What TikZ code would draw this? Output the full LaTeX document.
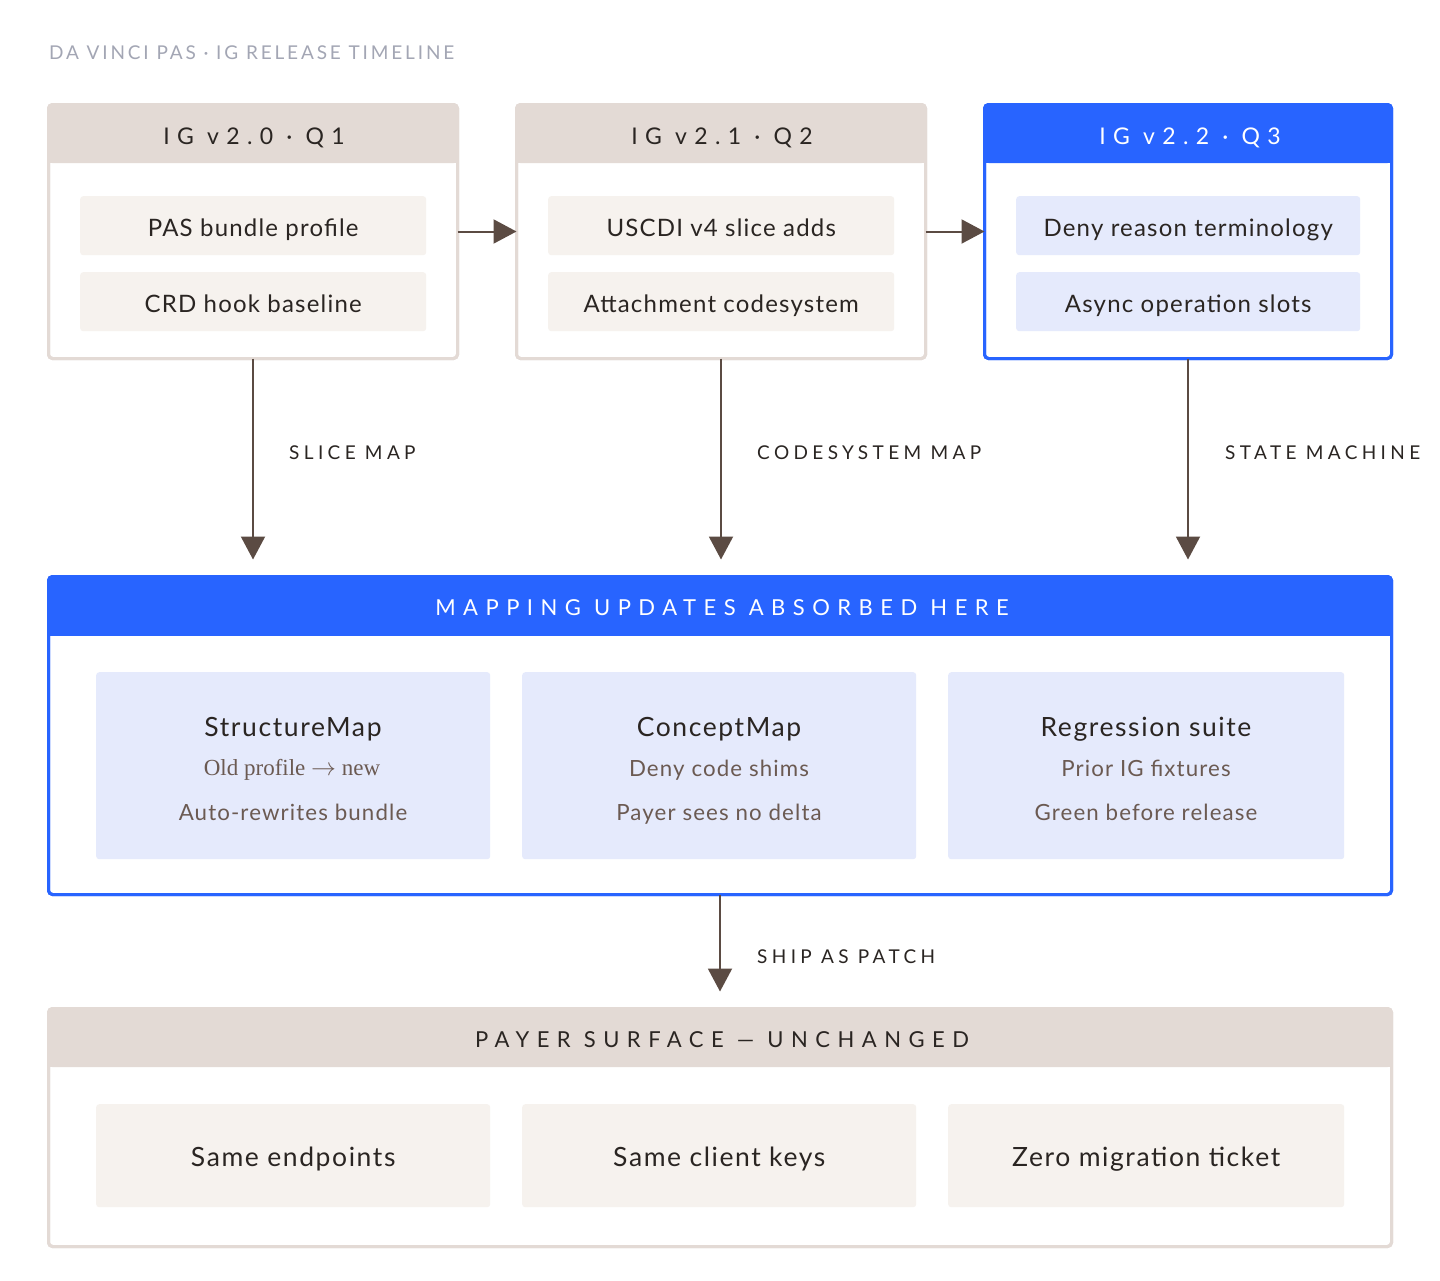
\documentclass[tikz,border=0pt]{standalone}
\usepackage{fontspec}
\setmainfont{Lato}
\newfontfamily\trackA[LetterSpace=15]{Lato}
\newfontfamily\trackB[LetterSpace=32]{Lato}
\newfontfamily\trackC[LetterSpace=23]{Lato}
\newfontfamily\trackD[LetterSpace=34]{Lato}
\newfontfamily\trackE[LetterSpace=5]{Lato}
\newfontfamily\trackF[LetterSpace=6]{Lato}
\newfontfamily\trackG[LetterSpace=5]{Lato}
\newfontfamily\serifsub{Liberation Serif}
\usetikzlibrary{arrows.meta,calc}
\definecolor{ablue}{RGB}{40,100,255}
\definecolor{hgray}{RGB}{227,218,213}
\definecolor{beige}{RGB}{246,242,238}
\definecolor{lblue}{RGB}{229,234,252}
\definecolor{arrc}{RGB}{91,75,67}
\definecolor{dtext}{RGB}{42,37,34}
\definecolor{btext}{RGB}{107,90,82}
\definecolor{ttext}{RGB}{163,166,180}
\tikzset{
  cc/.style={inner sep=0pt,text depth=0pt},
  outerbox/.style={draw=#1,line width=3pt,rounded corners=4pt,fill=white,inner sep=0pt,outer sep=0pt,anchor=north west},
  card/.style={fill=#1,rounded corners=3pt,inner sep=0pt,anchor=north west},
  itemtxt/.style={cc,text height=17.2pt,yshift=-2pt,font=\trackE\fontsize{24}{26}\selectfont,text=dtext},
  hdrtxt/.style={cc,text height=16.5pt,font=\trackB\fontsize{23}{26}\selectfont},
  lbltxt/.style={cc,text height=13.7pt,anchor=west,font=\trackC\fontsize{19}{22}\selectfont,text=dtext},
  bighdr/.style={cc,text height=15.8pt,font=\trackD\fontsize{22}{26}\selectfont},
  ctitle/.style={cc,text height=19pt,font=\trackF\fontsize{26.5}{28}\selectfont,text=dtext},
  csub/.style={cc,text height=16pt,font=\trackG\fontsize{22.3}{24}\selectfont,text=btext},
  arr/.style={draw=arrc,line width=2pt,-{Triangle[length=23pt,width=24pt]}},
}
\begin{document}
\begin{tikzpicture}[x=1pt,y=-1pt]
\useasboundingbox (0,0) rectangle (1440,1280);
\fill[white] (0,0) rectangle (1440,1280);

% title
\node[cc,text height=13.7pt,anchor=west,font=\trackA\fontsize{19}{22}\selectfont,text=ttext] (title) at (49,53) {DA VINCI PAS · IG RELEASE TIMELINE};

% top boxes
\node[outerbox=hgray,minimum width=409pt,minimum height=254pt] (b1) at (48.5,104.5) {};
\node[outerbox=hgray,minimum width=409pt,minimum height=254pt] (b2) at (516.5,104.5) {};
\node[outerbox=ablue,minimum width=407pt,minimum height=254pt] (b3) at (984.5,104.5) {};
\foreach \b/\c in {b1/hgray,b2/hgray,b3/ablue}{
  \fill[\c,rounded corners=4pt] (\b.north west) rectangle ($(\b.north east)+(0,58.5)$);
  \fill[\c] ($(\b.north west)+(0,20)$) rectangle ($(\b.north east)+(0,58.5)$);
  \draw[\c,line width=3pt,rounded corners=4pt] (\b.south west) rectangle (\b.north east);
}
\node[hdrtxt,text=dtext] (h1) at (254,136) {IG v2.0 · Q1};
\node[hdrtxt,text=dtext] (h2) at (722,136) {IG v2.1 · Q2};
\node[hdrtxt,text=white] (h3) at (1190,136) {IG v2.2 · Q3};

\node[card=beige,minimum width=346pt,minimum height=59pt] (i11) at (80,196) {};
\node[card=beige,minimum width=346pt,minimum height=59pt] (i12) at (80,272) {};
\node[card=beige,minimum width=346pt,minimum height=59pt] (i21) at (548,196) {};
\node[card=beige,minimum width=346pt,minimum height=59pt] (i22) at (548,272) {};
\node[card=lblue,minimum width=344pt,minimum height=59pt] (i31) at (1016,196) {};
\node[card=lblue,minimum width=344pt,minimum height=59pt] (i32) at (1016,272) {};
\node[itemtxt] at (i11.center) {PAS bundle profile};
\node[itemtxt] at (i12.center) {CRD hook baseline};
\node[itemtxt] at (i21.center) {USCDI v4 slice adds};
\node[itemtxt] at (i22.center) {Attachment codesystem};
\node[itemtxt] at (i31.center) {Deny reason terminology};
\node[itemtxt] at (i32.center) {Async operation slots};

\draw[arr] (b1.east) -- (b2.west);
\draw[arr] (b2.east) -- (b3.west);

% middle box
\node[outerbox=ablue,minimum width=1343pt,minimum height=318pt] (mid) at (48.5,576.5) {};
\fill[ablue,rounded corners=4pt] (mid.north west) rectangle ($(mid.north east)+(0,59)$);
\fill[ablue] ($(mid.north west)+(0,20)$) rectangle ($(mid.north east)+(0,59)$);
\draw[ablue,line width=3pt,rounded corners=4pt] (mid.south west) rectangle (mid.north east);
\node[bighdr,text=white] (mh) at (722,608) {MAPPING UPDATES ABSORBED HERE};

\node[card=lblue,minimum width=394pt,minimum height=187pt] (c1) at (96,672) {};
\node[card=lblue,minimum width=394pt,minimum height=187pt] (c2) at (522,672) {};
\node[card=lblue,minimum width=396pt,minimum height=187pt] (c3) at (948,672) {};
\node[ctitle] at (293,727) {StructureMap};
\node[cc,text height=15pt,font=\serifsub\fontsize{23}{24}\selectfont,text=btext] at (292,768) {Old profile $\rightarrow$ new};
\node[csub] at (293,812) {Auto-rewrites bundle};
\node[ctitle] at (719,727) {ConceptMap};
\node[csub] at (719,768) {Deny code shims};
\node[csub] at (719,812) {Payer sees no delta};
\node[ctitle] at (1146,727) {Regression suite};
\node[csub] at (1146,768) {Prior IG fixtures};
\node[csub] at (1146,812) {Green before release};

% vertical arrows
\draw[arr,shorten >=17pt] (b1.south) -- (b1.south |- mid.north);
\draw[arr,shorten >=17pt] (b2.south) -- (b2.south |- mid.north);
\draw[arr,shorten >=17pt] (b3.south) -- (b3.south |- mid.north);
\node[lbltxt] (l1) at (289,453) {SLICE MAP};
\node[lbltxt] (l2) at (757,453) {CODESYSTEM MAP};
\node[lbltxt] (l3) at (1225,453) {STATE MACHINE};

% bottom box
\node[outerbox=hgray,minimum width=1343pt,minimum height=238pt] (bot) at (48.5,1008.5) {};
\fill[hgray,rounded corners=4pt] (bot.north west) rectangle ($(bot.north east)+(0,58.5)$);
\fill[hgray] ($(bot.north west)+(0,20)$) rectangle ($(bot.north east)+(0,58.5)$);
\draw[hgray,line width=3pt,rounded corners=4pt] (bot.south west) rectangle (bot.north east);
\node[bighdr,text=dtext] (bh) at (722,1040) {PAYER SURFACE — UNCHANGED};

\node[card=beige,minimum width=394pt,minimum height=103pt] (d1) at (96,1104) {};
\node[card=beige,minimum width=394pt,minimum height=103pt] (d2) at (522,1104) {};
\node[card=beige,minimum width=396pt,minimum height=103pt] (d3) at (948,1104) {};
\node[ctitle,yshift=-1pt] at (d1.center) {Same endpoints};
\node[ctitle,yshift=-1pt] at (d2.center) {Same client keys};
\node[ctitle,yshift=-1pt] at (d3.center) {Zero migration ticket};

\draw[arr,shorten >=17pt] (mid.south) -- (bot.north);
\node[lbltxt] (l4) at (757,957) {SHIP AS PATCH};
\end{tikzpicture}
\end{document}
